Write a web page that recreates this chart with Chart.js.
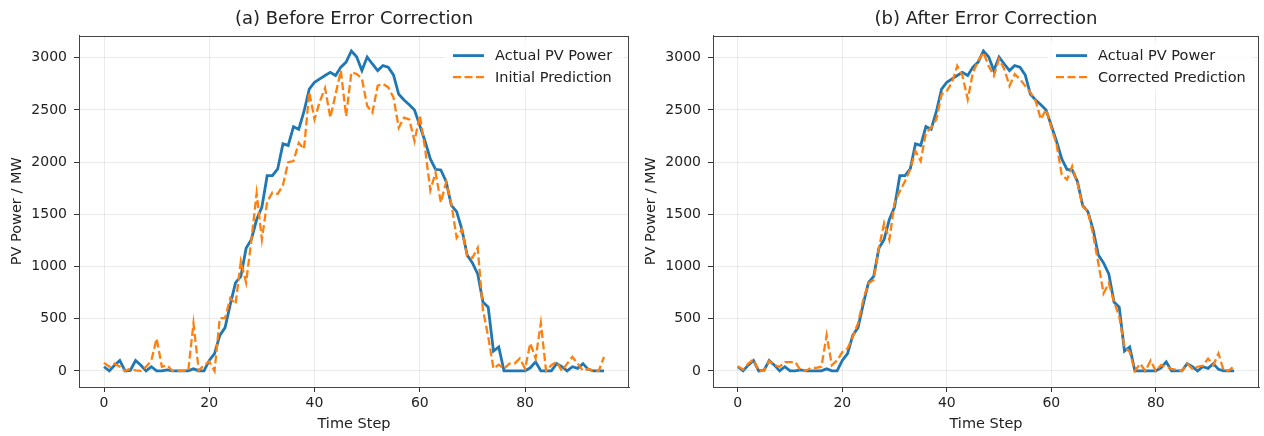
<!DOCTYPE html>
<html>
<head>
<meta charset="utf-8">
<script src="https://cdn.jsdelivr.net/npm/chart.js@4.4.1/dist/chart.umd.min.js"></script>
<style>
  html, body { margin: 0; padding: 0; background: #fff; }
  #wrap { position: relative; width: 1264px; height: 436px; }
  canvas { position: absolute; top: 0; }
</style>
</head>
<body>
<div id="wrap">
  <canvas id="chartA" width="640" height="436" style="left:0px"></canvas>
  <canvas id="chartB" width="630" height="436" style="left:634px"></canvas>
</div>
<script>
// Time steps (x categories)
const timeSteps = [
  0, 1, 2, 3, 4, 5, 6, 7, 8, 9, 10, 11, 12, 13, 14, 15, 16, 17, 18, 19,
  20, 21, 22, 23, 24, 25, 26, 27, 28, 29, 30, 31, 32, 33, 34, 35, 36, 37, 38, 39,
  40, 41, 42, 43, 44, 45, 46, 47, 48, 49, 50, 51, 52, 53, 54, 55, 56, 57, 58, 59,
  60, 61, 62, 63, 64, 65, 66, 67, 68, 69, 70, 71, 72, 73, 74, 75, 76, 77, 78, 79,
  80, 81, 82, 83, 84, 85, 86, 87, 88, 89, 90, 91, 92, 93, 94, 95
];

// Actual PV power (MW)
const actualPower = [
  40, 0, 55, 100, 0, 5, 100, 55, 0, 40, 0, 0, 10, 0, 0, 0, 0, 20, 0, 0,
  100, 165, 340, 415, 640, 845, 905, 1175, 1260, 1450, 1570, 1870, 1870, 1935, 2175, 2160, 2340, 2315, 2485, 2700,
  2765, 2797, 2830, 2860, 2830, 2910, 2958, 3065, 3010, 2877, 3006, 2940, 2877, 2925, 2910, 2835, 2650, 2595, 2550, 2500,
  2350, 2200, 2030, 1930, 1925, 1815, 1585, 1525, 1355, 1110, 1035, 930, 660, 610, 190, 230, 0, 0, 0, 0,
  0, 30, 87, 0, 0, 0, 70, 40, 0, 40, 25, 70, 15, 0, 0, 0
];

// Initial prediction (MW)
const initialPrediction = [
  77, 40, 70, 40, 0, 20, 5, 0, 40, 100, 310, 40, 55, 0, 0, 0, 0, 455, 5, 55,
  90, 0, 505, 505, 700, 640, 1050, 845, 1250, 1700, 1260, 1620, 1710, 1695, 1780, 2000, 2010, 2185, 2125, 2670,
  2410, 2580, 2710, 2426, 2650, 2877, 2440, 2860, 2845, 2800, 2540, 2475, 2732, 2750, 2716, 2620, 2330, 2426, 2410, 2200,
  2450, 2130, 1730, 1900, 1614, 1807, 1600, 1276, 1357, 1100, 1083, 1180, 585, 328, 23, 60, 20, 70, 70, 120,
  23, 265, 120, 458, 0, 55, 87, 0, 70, 135, 70, 0, 20, 0, 0, 135
];

// Corrected prediction (MW)
const correctedPrediction = [
  45, 13, 70, 110, 0, 0, 95, 55, 40, 85, 85, 85, 5, 0, 30, 30, 40, 343, 55, 100,
  180, 215, 327, 455, 680, 840, 870, 1176, 1416, 1256, 1609, 1721, 1817, 1930, 2105, 2010, 2282, 2330, 2410, 2650,
  2683, 2763, 2923, 2827, 2602, 2859, 2971, 3050, 2923, 2827, 2987, 2891, 2730, 2843, 2795, 2730, 2667, 2586, 2410, 2506,
  2330, 2170, 1880, 1833, 1960, 1800, 1577, 1530, 1305, 1032, 743, 840, 663, 520, 230, 183, 0, 70, 0, 100,
  0, 55, 40, 20, 10, 0, 70, 20, 40, 50, 118, 55, 167, 0, 5, 45
];

const xTicks = [0, 20, 40, 60, 80];
const yTicks = [0, 500, 1000, 1500, 2000, 2500, 3000];

const FONT = "'DejaVu Sans', sans-serif";
const TEXT = '#222';
Chart.defaults.font.family = FONT;

// top/right spines + matplotlib style legend in the upper right
const framePlugin = {
  id: 'frame',
  afterDatasetsDraw(chart, args, opts) {
    const ctx = chart.ctx;
    const a = chart.chartArea;
    const sets = chart.data.datasets;

    // legend
    const x0 = a.left + opts.legendLeft;
    ctx.save();
    ctx.fillStyle = 'rgba(255,255,255,0.8)';
    ctx.fillRect(x0 - 8, a.top + 6, a.right - x0 + 2, 48);
    ctx.font = '14.5px ' + FONT;
    ctx.textBaseline = 'middle';
    sets.forEach((ds, i) => {
      const y = a.top + 20 + i * 21.5;
      ctx.beginPath();
      ctx.strokeStyle = ds.borderColor;
      ctx.lineWidth = ds.borderWidth;
      ctx.setLineDash(ds.borderDash || []);
      ctx.moveTo(x0, y);
      ctx.lineTo(x0 + 31, y);
      ctx.stroke();
      ctx.setLineDash([]);
      ctx.fillStyle = TEXT;
      ctx.fillText(ds.label, x0 + 42, y + 1);
    });

    // spines
    ctx.strokeStyle = '#444';
    ctx.lineWidth = 1;
    ctx.strokeRect(Math.round(a.left) + 0.5, Math.round(a.top) + 0.5,
      Math.round(a.right - a.left) - 1, Math.round(a.bottom - a.top));
    ctx.restore();
  }
};

function makePanel(canvasId, title, predLabel, prediction, padRight, legendLeft) {
  const toPoints = arr => timeSteps.map((t, i) => ({ x: t, y: arr[i] }));
  return new Chart(document.getElementById(canvasId), {
    type: 'line',
    data: {
      datasets: [
        {
          label: 'Actual PV Power',
          data: toPoints(actualPower),
          borderColor: '#1f77b4',
          borderWidth: 2.8,
          pointRadius: 0,
          fill: false,
          tension: 0,
          order: 1
        },
        {
          label: predLabel,
          data: toPoints(prediction),
          borderColor: '#ff7f0e',
          borderWidth: 2.3,
          borderDash: [8, 3.5],
          pointRadius: 0,
          fill: false,
          tension: 0,
          order: 0
        }
      ]
    },
    options: {
      responsive: false,
      animation: false,
      devicePixelRatio: 1,
      layout: { padding: { left: 0, right: padRight, top: 0, bottom: 0 } },
      plugins: {
        legend: { display: false },
        tooltip: { enabled: false },
        title: {
          display: true,
          text: title,
          fullSize: false,
          color: TEXT,
          font: { size: 18, weight: 'normal' },
          padding: { top: 9, bottom: 5 }
        },
        frame: { legendLeft: legendLeft }
      },
      scales: {
        x: {
          type: 'linear',
          min: -4.75,
          max: 99.75,
          afterBuildTicks: s => { s.ticks = xTicks.map(v => ({ value: v })); },
          afterFit: s => { s.height = 49; },
          grid: { color: 'rgba(0,0,0,0.08)', tickColor: '#333', tickLength: 5 },
          border: { color: '#444', width: 1 },
          ticks: { color: TEXT, font: { size: 14 }, padding: 3, maxRotation: 0 },
          title: {
            display: true, text: 'Time Step', color: TEXT,
            font: { size: 14.5 }, padding: { top: 0, bottom: 3 }
          }
        },
        y: {
          min: -154,
          max: 3212,
          afterBuildTicks: s => { s.ticks = yTicks.map(v => ({ value: v })); },
          afterFit: s => { s.width = 79; },
          grid: { color: 'rgba(0,0,0,0.08)', tickColor: '#333', tickLength: 5 },
          border: { color: '#444', width: 1 },
          ticks: { color: TEXT, font: { size: 14 }, padding: 7, callback: v => String(v) },
          title: {
            display: true, text: 'PV Power / MW', color: TEXT,
            font: { size: 14.5 }, padding: { top: 9, bottom: 0 }
          }
        }
      }
    },
    plugins: [framePlugin]
  });
}

makePanel('chartA', '(a) Before Error Correction', 'Initial Prediction', initialPrediction, 11, 374);
makePanel('chartB', '(b) After Error Correction', 'Corrected Prediction', correctedPrediction, 5, 343);
</script>
</body>
</html>
